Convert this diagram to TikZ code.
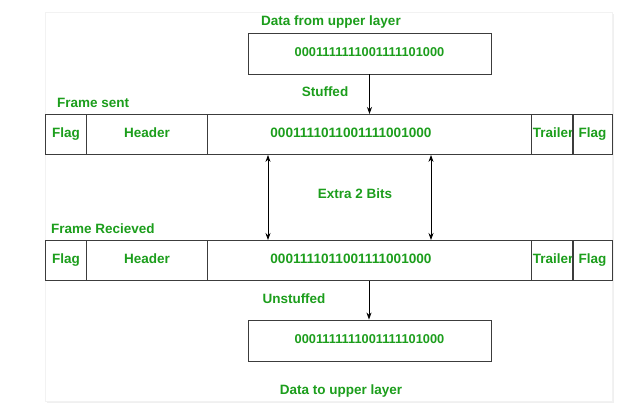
\documentclass[tikz,border=0pt]{standalone}
\usepackage{fontspec}
\setmainfont{Liberation Sans}
\usetikzlibrary{arrows.meta}
\definecolor{lbl}{RGB}{28,158,28}
\definecolor{edge}{RGB}{60,60,60}
\begin{document}
\begin{tikzpicture}[x=1pt,y=-1pt,
  txt/.style={text=lbl,font=\fontsize{13.5}{15}\selectfont\bfseries,inner sep=0pt,
    text height=10pt,text depth=3pt},
  bits/.style={text=lbl,font=\fontsize{13.6}{15}\selectfont\bfseries,inner sep=0pt,
    text height=10pt,text depth=3pt},
  cell/.style={draw=edge,line width=0.9pt,minimum height=40,inner sep=0pt,anchor=north west,
    text=lbl,font=\fontsize{13.5}{15}\selectfont\bfseries,text height=9pt,text depth=3pt},
  databox/.style={draw=edge,line width=0.9pt,minimum width=243,minimum height=41,inner sep=0pt,
    text=lbl,font=\fontsize{12.8}{15}\selectfont\bfseries,text height=9pt,text depth=3pt},
  arr/.style={-{Stealth[length=7pt,width=5pt]},line width=0.8pt},
  darr/.style={{Stealth[length=7pt,width=5pt]}-{Stealth[length=7pt,width=5pt]},line width=0.8pt}]
\useasboundingbox (0,0) rectangle (619,404);
% card behind the diagram
\fill[black!6] (47,14) rectangle (614,403);
\fill[white,draw=black!5] (45,12) rectangle (612,401);

% data handed down by the upper layer
\node[txt] (tin) at (331,22.5) {Data from upper layer};
\node[databox] (top) at (369.5,53.5) {0001111111001111101000};

% frame as sent
\node[txt,anchor=west] (lsent) at (57,103.5) {Frame sent};
\node[cell,minimum width=41] (sf1) at (45,114) {Flag};
\node[cell,minimum width=121] (shd) at (86,114) {Header};
\node[cell,minimum width=324] (sdata) at (207,114) {};
\node[bits] at (351,134.5) {0001111011001111001000};
\node[cell,minimum width=41] (str) at (531,114) {\hspace*{1.5pt}Trailer};
\node[cell,minimum width=40] (sf2) at (572,114) {Flag};

% frame as received
\node[txt,anchor=west] (lrecv) at (51,229.5) {Frame Recieved};
\node[cell,minimum width=41] (rf1) at (45,240) {Flag};
\node[cell,minimum width=121] (rhd) at (86,240) {Header};
\node[cell,minimum width=324] (rdata) at (207,240) {};
\node[bits] at (351,259.5) {0001111011001111001000};
\node[cell,minimum width=41] (rtr) at (531,240) {\hspace*{1.5pt}Trailer};
\node[cell,minimum width=40] (rf2) at (572,240) {Flag};

% data passed back up
\node[databox] (bot) at (369.5,340.5) {0001111111001111101000};
\node[txt] (tout) at (341,390.5) {Data to upper layer};

% labels on the arrows
\node[txt] (lstuff) at (325,93.5) {Stuffed};
\node[txt] (lextra) at (355,194.5) {Extra 2 Bits};
\node[txt] (lunstuff) at (294,299.5) {Unstuffed};

% arrows
\coordinate (xa) at (268,0);
\coordinate (xb) at (431,0);
\coordinate (xc) at (369,0);
\draw[arr] (top.south) -- (top.south |- sdata.north);
\draw[darr] (sdata.south -| xa) -- (rdata.north -| xa);
\draw[darr] (sdata.south -| xb) -- (rdata.north -| xb);
\draw[arr] (rdata.south -| xc) -- (bot.north -| xc);
\end{tikzpicture}
\end{document}
